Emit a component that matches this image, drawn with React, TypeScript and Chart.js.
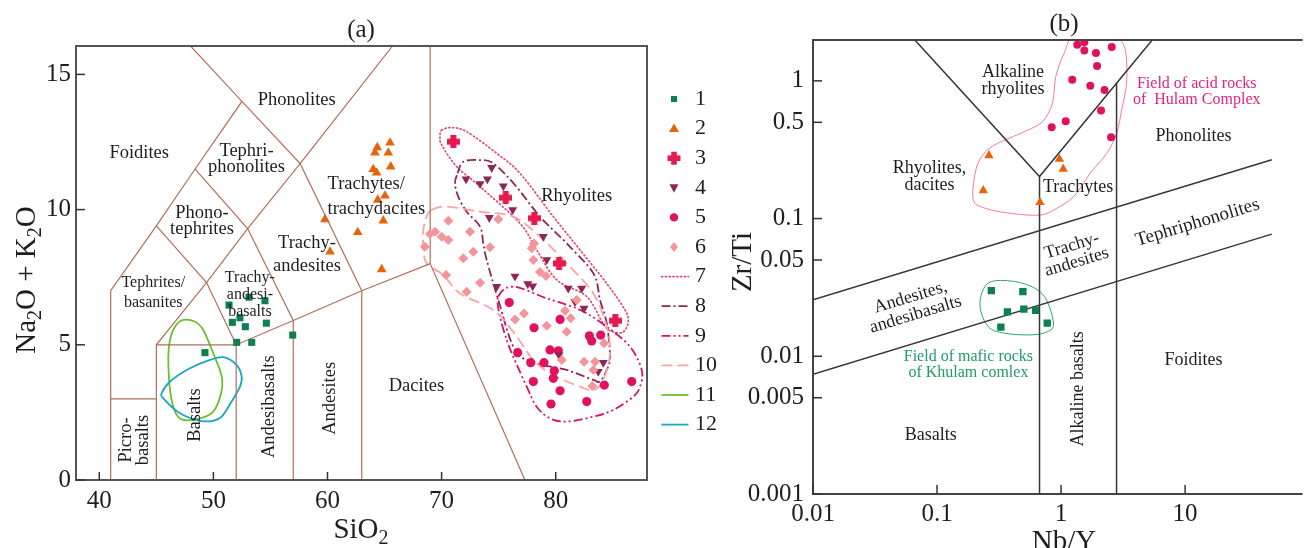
import React, { useEffect, useRef } from "react";
import { Chart, registerables } from "chart.js";

Chart.register(...registerables);

const FONT = '"Liberation Serif", "Times New Roman", serif';

// ================= Panel (a): TAS diagram =================
const TAS_X_TICKS = [40, 50, 60, 70, 80];
const TAS_Y_TICKS = [0, 5, 10, 15];

const TAS_BOUNDARIES: [number, number][][] = [
  [[41, 0], [41, 7], [45, 9.4], [48.4, 11.5], [52.5, 14], [48.0, 16.05]],
  [[41, 3], [45, 3]],
  [[45, 0], [45, 5], [49.4, 7.3], [53, 9.3], [57.6, 11.7], [52.5, 14]],
  [[45, 5], [52, 5]],
  [[52, 0], [52, 5], [57, 5.9], [63, 7], [69, 8]],
  [[57, 0], [57, 5.9], [53, 9.3], [48.4, 11.5]],
  [[45, 9.4], [49.4, 7.3], [52, 5]],
  [[63, 0], [63, 7], [57.6, 11.7], [65.7, 16.05]],
  [[69, 16.05], [69, 8], [77.3, 0]],
];

// series 1 — mafic rocks
const S1_SIO2 = [51.37, 53.12, 54.52, 51.66, 52.33, 52.8, 54.64, 52.04, 53.36, 56.95, 49.26];
const S1_ALK = [6.47, 6.76, 6.63, 5.83, 6.0, 5.67, 5.8, 5.09, 5.09, 5.36, 4.71];
// series 2
const S2_SIO2 = [64.36, 65.48, 64.16, 65.33, 64.01, 64.31, 65.54, 64.4, 65.04, 64.89, 59.78, 62.65, 60.22, 64.75];
const S2_ALK = [12.3, 12.47, 12.1, 12.1, 11.49, 11.36, 11.59, 10.36, 10.51, 9.59, 9.64, 9.16, 8.44, 7.79];
// series 3
const S3_SIO2 = [71.03, 75.62, 78.12, 80.29, 85.22];
const S3_ALK = [12.51, 10.44, 9.68, 8.01, 5.89];
// series 4
const S4_SIO2 = [74.39, 72.14, 73.37, 74.01, 75.41, 76.23, 74.18, 78.91, 79.21, 76.43, 74.83, 77.55, 77.98, 81.1, 82.28, 81.69, 82.48, 80.29, 84.17, 83.73];
const S4_ALK = [11.55, 11.13, 10.95, 11.13, 10.87, 9.99, 9.7, 9.0, 8.14, 7.53, 7.15, 7.25, 7.17, 7.09, 7.09, 6.59, 6.35, 4.62, 4.34, 4.01];
// series 5
const S5_SIO2 = [75.93, 78.1, 80.38, 82.95, 83.94, 83.15, 76.67, 79.5, 80.23, 77.81, 78.97, 79.88, 79.79, 78.04, 80.38, 79.59, 82.72, 84.26, 86.66];
const S5_ALK = [6.56, 5.63, 5.94, 5.33, 5.36, 5.14, 4.71, 4.81, 4.78, 4.34, 4.34, 4.04, 3.76, 3.64, 3.3, 2.81, 2.9, 3.51, 3.64];
// series 6
const S6_SIO2 = [70.59, 69.42, 68.98, 70.01, 70.59, 72.49, 68.54, 72.78, 74.24, 71.9, 70.39, 74.97, 77.9, 78.04, 79.15, 73.37, 72.2, 77.22, 76.43, 79.21, 80.82, 81.31, 80.96, 84.23, 82.48, 83.45, 83.3, 83.21, 80.53, 81.84, 78.1, 78.62];
const S6_ALK = [9.59, 9.18, 9.1, 9.0, 8.88, 9.18, 8.63, 8.44, 8.61, 8.2, 7.58, 9.64, 8.57, 8.14, 7.54, 7.29, 6.96, 6.16, 5.94, 5.7, 6.26, 5.98, 5.48, 5.06, 4.37, 4.37, 4.07, 3.48, 4.44, 6.66, 8.75, 7.69];

// contours 7..12
const C7: [number, number][] = [[70.01, 12.94], [70.89, 13.03], [72.2, 12.88], [74.83, 12.08], [76.87, 11.34], [79.79, 9.74], [82.13, 8.51], [84.47, 7.27], [86.07, 6.29], [86.36, 5.85], [85.92, 5.48], [85.05, 5.48], [84.23, 5.73], [82.72, 6.78], [80.09, 7.4], [78.33, 8.51], [76.87, 9.49], [73.37, 10.85], [71.32, 11.59], [70.01, 12.39], [69.86, 12.7]];
const C8: [number, number][] = [[71.4, 11.34], [71.9, 11.77], [73.37, 11.83], [74.53, 11.71], [76.43, 10.91], [78.62, 9.74], [80.96, 8.75], [83.3, 7.64], [83.88, 6.66], [84.47, 5.8], [84.76, 4.56], [84.47, 4.07], [83.88, 3.64], [83.3, 3.7], [80.96, 4.07], [78.33, 4.32], [76.43, 4.81], [74.97, 6.66], [73.95, 8.14], [73.65, 8.75], [73.37, 9.37], [72.2, 9.92], [71.46, 10.48], [71.17, 10.97]];
const C9: [number, number][] = [[74.97, 6.78], [76.28, 7.15], [79.21, 6.72], [82.13, 6.29], [84.47, 5.67], [86.51, 4.93], [87.54, 4.07], [87.39, 3.45], [86.8, 3.08], [85.05, 2.59], [83.3, 2.34], [80.96, 2.16], [79.5, 2.28], [78.33, 2.71], [77.46, 3.45], [76.28, 4.56], [75.71, 5.18], [75.12, 6.04]];
const C10: [number, number][] = [[69.13, 9.99], [70.45, 10.11], [73.37, 9.92], [76.28, 9.74], [78.62, 9.0], [80.96, 8.01], [83.3, 6.9], [84.47, 5.67], [84.76, 4.69], [84.17, 3.7], [83.3, 3.33], [82.13, 3.45], [79.79, 3.88], [78.04, 4.44], [76.28, 5.48], [74.53, 6.29], [71.61, 6.9], [70.15, 7.58], [68.69, 8.01], [68.4, 8.63], [68.4, 9.25], [68.69, 9.74]];
const C11: [number, number][] = [[47.36, 5.92], [48.39, 5.85], [49.11, 5.55], [49.99, 4.69], [50.73, 3.82], [50.67, 3.21], [49.99, 2.53], [48.83, 2.28], [47.36, 2.22], [46.63, 2.53], [46.2, 3.33], [46.05, 4.56], [46.2, 5.18], [46.63, 5.67]];
const C12: [number, number][] = [[50.87, 4.54], [52.04, 4.25], [52.48, 3.82], [52.33, 3.45], [51.6, 2.9], [50.73, 2.34], [49.99, 2.19], [48.83, 2.19], [47.07, 2.47], [45.61, 3.02], [45.47, 3.21], [46.2, 3.64], [47.95, 4.13], [49.7, 4.44]];

const LEGEND_LABELS = ["1", "2", "3", "4", "5", "6", "7", "8", "9", "10", "11", "12"];

const TAS_LABELS = [
  { t: ["Foidites"], x: 43.5, y: 12.1 },
  { t: ["Phonolites"], x: 57.3, y: 14.05 },
  { t: ["Tephri-", "phonolites"], x: 52.9, y: 11.85, lh: 16 },
  { t: ["Phono-", "tephrites"], x: 49.0, y: 9.58, lh: 16.6 },
  { t: ["Trachy-", "andesites"], x: 58.2, y: 8.33, lh: 22.7 },
  { t: ["Trachytes/", "trachydacites"], x: 60.0, y: 10.48, lh: 25, align: "left" },
  { t: ["Rhyolites"], x: 81.84, y: 10.5 },
  { t: ["Tephrites/", "basanites"], x: 44.73, y: 6.92, lh: 19.4, size: 16 },
  { t: ["Trachy-", "andesi-", "basalts"], x: 53.2, y: 6.84, lh: 17, size: 16 },
  { t: ["Picro-", "basalts"], x: 43.1, y: 1.48, lh: 17.3, rot: -90 },
  { t: ["Basalts"], x: 48.4, y: 2.4, rot: -90 },
  { t: ["Andesibasalts"], x: 54.9, y: 2.71, rot: -90 },
  { t: ["Andesites"], x: 60.2, y: 3.02, rot: -90 },
  { t: ["Dacites"], x: 67.8, y: 3.48 },
];

// ================= Panel (b): Zr/Ti vs Nb/Y =================
const ZT_X_TICKS = [0.01, 0.1, 1, 10];
const ZT_Y_TICKS = [0.001, 0.005, 0.01, 0.05, 0.1, 0.5, 1];

const ZT_BOUNDARIES: [number, number][][] = [
  [[0.01, 0.0257], [50, 0.267]],
  [[0.01, 0.00741], [50, 0.0771]],
  [[0.0662, 1.98], [0.67, 0.202], [5.43, 1.98]],
  [[0.67, 0.202], [0.67, 0.001]],
  [[2.8, 0.968], [2.8, 0.001]],
];

const B1_NBY = [0.274, 0.492, 0.369, 0.501, 0.624, 0.773, 0.327];
const B1_ZRTI = [0.03, 0.0295, 0.021, 0.022, 0.0216, 0.0174, 0.0163];
const B2_NBY = [0.262, 0.97, 1.04, 0.236, 0.676];
const B2_ZRTI = [0.287, 0.27, 0.229, 0.16, 0.131];
const B5_NBY = [1.35, 1.54, 1.54, 1.91, 2.56, 1.95, 1.23, 1.72, 2.24, 2.1, 1.09, 0.84, 2.53];
const B5_ZRTI = [1.83, 1.91, 1.66, 1.59, 1.76, 1.28, 1.02, 0.92, 0.86, 0.61, 0.51, 0.46, 0.39];

const ACID_FIELD: [number, number][] = [[0.196, 0.137], [0.203, 0.214], [0.229, 0.282], [0.292, 0.343], [0.507, 0.428], [0.709, 0.506], [0.853, 0.692], [0.906, 1.07], [1.06, 1.59], [1.3, 2.15], [2.6, 2.15], [3.08, 1.93], [3.34, 1.55], [3.37, 0.96], [3.08, 0.615], [2.81, 0.417], [2.34, 0.298], [1.72, 0.214], [1.27, 0.145], [0.88, 0.116], [0.668, 0.106], [0.397, 0.109], [0.243, 0.119]];
const MAFIC_FIELD: [number, number][] = [[0.222, 0.023], [0.243, 0.0321], [0.31, 0.0355], [0.507, 0.0336], [0.733, 0.0272], [0.869, 0.0174], [0.778, 0.0151], [0.573, 0.0143], [0.352, 0.0147], [0.259, 0.0164]];

const ZT_LABELS = [
  { t: ["Alkaline", "rhyolites"], x: 0.409, y: 1.0, lh: 16.6 },
  { t: ["Rhyolites,", "dacites"], x: 0.0871, y: 0.202, lh: 16.7 },
  { t: ["Trachytes"], x: 1.37, y: 0.169 },
  { t: ["Phonolites"], x: 11.7, y: 0.394 },
  { t: ["Field of acid rocks", "of  Hulam Complex"], x: 12.4, y: 0.832, lh: 16, size: 16, color: "#e3237c" },
  { t: ["Tephriphonolites"], x: 12.6, y: 0.0935, rot: -16.8, size: 19 },
  { t: ["Trachy-", "andesites"], x: 1.28, y: 0.0554, rot: -16.8, lh: 17 },
  { t: ["Andesites,", "andesibasalts"], x: 0.0641, y: 0.0232, rot: -16.8, lh: 18 },
  { t: ["Field of mafic rocks", "of Khulam comlex"], x: 0.179, y: 0.00866, lh: 16, size: 16, color: "#1f9e63" },
  { t: ["Basalts"], x: 0.0891, y: 0.00269 },
  { t: ["Alkaline basalts"], x: 1.37, y: 0.0058, rot: -90 },
  { t: ["Foidites"], x: 11.7, y: 0.0094 },
];

// ================= styles =================
const COL = {
  s1: "#0e7f4f",
  s2: "#e8630a",
  s3: "#e31b4e",
  s4: "#8e2657",
  s5: "#e0115f",
  s6: "#f3959b",
  c7: "#ea3d64",
  c8: "#8e2657",
  c9: "#d6136b",
  c10: "#f9a5a5",
  c11: "#6dbf2c",
  c12: "#1aa6c2",
  tas: "#b0705a",
  zt: "#3b3535",
  text: "#1e1e1e",
};

const CONTOURS_A = [
  { pts: C7, color: COL.c7, dash: [1.2, 2.6], width: 1.6 },
  { pts: C8, color: COL.c8, dash: [9, 3, 2, 3], width: 1.8 },
  { pts: C9, color: COL.c9, dash: [9, 3, 2, 3, 2, 3], width: 1.8 },
  { pts: C10, color: COL.c10, dash: [11, 5], width: 1.8 },
  { pts: C11, color: COL.c11, dash: [], width: 1.8 },
  { pts: C12, color: COL.c12, dash: [], width: 1.8 },
];

type P = { x: number; y: number };

function zip(xs: number[], ys: number[]): P[] {
  return xs.map((x, i) => ({ x, y: ys[i] }));
}

function splinePath(ctx: CanvasRenderingContext2D, p: P[]) {
  const n = p.length;
  ctx.beginPath();
  ctx.moveTo(p[0].x, p[0].y);
  for (let i = 0; i < n; i++) {
    const p0 = p[(i - 1 + n) % n], p1 = p[i], p2 = p[(i + 1) % n], p3 = p[(i + 2) % n];
    ctx.bezierCurveTo(
      p1.x + (p2.x - p0.x) / 6, p1.y + (p2.y - p0.y) / 6,
      p2.x - (p3.x - p1.x) / 6, p2.y - (p3.y - p1.y) / 6,
      p2.x, p2.y
    );
  }
  ctx.closePath();
}

function drawBlock(ctx: CanvasRenderingContext2D, cx: number, cy: number, lines: string[], size: number, color: string, rot = 0, lh = size, align: CanvasTextAlign = "center") {
  ctx.save();
  ctx.translate(cx, cy);
  if (rot) ctx.rotate((rot * Math.PI) / 180);
  ctx.font = `${size}px ${FONT}`;
  ctx.fillStyle = color;
  ctx.textAlign = align;
  ctx.textBaseline = "middle";
  const n = lines.length;
  lines.forEach((t, i) => ctx.fillText(t, 0, (i - (n - 1) / 2) * lh));
  ctx.restore();
}

function drawRich(ctx: CanvasRenderingContext2D, parts: [string, boolean][], cx: number, cy: number, size: number, rot = 0) {
  ctx.save();
  ctx.translate(cx, cy);
  if (rot) ctx.rotate((rot * Math.PI) / 180);
  ctx.fillStyle = COL.text;
  ctx.textBaseline = "middle";
  ctx.textAlign = "left";
  const big = `${size}px ${FONT}`;
  const small = `${Math.round(size * 0.68)}px ${FONT}`;
  let total = 0;
  parts.forEach(([t, s]) => { ctx.font = s ? small : big; total += ctx.measureText(t).width; });
  let x = -total / 2;
  parts.forEach(([t, s]) => {
    ctx.font = s ? small : big;
    ctx.fillText(t, x, s ? size * 0.3 : 0);
    x += ctx.measureText(t).width;
  });
  ctx.restore();
}

function makeCross(size: number, arm: number, color: string) {
  const c = document.createElement("canvas");
  c.width = size;
  c.height = size;
  const g = c.getContext("2d")!;
  g.fillStyle = color;
  const o = (size - arm) / 2;
  g.fillRect(o, 0, arm, size);
  g.fillRect(0, o, size, arm);
  return c;
}

function lineDatasets(lines: [number, number][][], color: string, width: number) {
  return lines.map((seg) => ({
    data: seg.map(([x, y]) => ({ x, y })),
    showLine: true,
    borderColor: color,
    borderWidth: width,
    pointRadius: 0,
    tension: 0,
    order: 20,
  }));
}

function marker(data: P[], color: string, style: any, radius: number, rotation = 0) {
  return {
    data,
    pointStyle: style,
    pointRadius: radius,
    rotation,
    backgroundColor: color,
    borderColor: color,
    borderWidth: 0,
    showLine: false,
    order: 1,
  };
}

function drawLegendMarker(ctx: CanvasRenderingContext2D, i: number, x: number, y: number) {
  ctx.save();
  ctx.setLineDash([]);
  if (i === 0) { ctx.fillStyle = COL.s1; ctx.fillRect(x - 3, y - 3, 6, 6); }
  else if (i === 1) { ctx.fillStyle = COL.s2; ctx.beginPath(); ctx.moveTo(x, y - 5); ctx.lineTo(x + 5, y + 3.5); ctx.lineTo(x - 5, y + 3.5); ctx.closePath(); ctx.fill(); }
  else if (i === 2) { ctx.fillStyle = COL.s3; ctx.fillRect(x - 2.8, y - 6.5, 5.6, 13); ctx.fillRect(x - 6.5, y - 2.8, 13, 5.6); }
  else if (i === 3) { ctx.fillStyle = COL.s4; ctx.beginPath(); ctx.moveTo(x, y + 5); ctx.lineTo(x + 4.5, y - 3.5); ctx.lineTo(x - 4.5, y - 3.5); ctx.closePath(); ctx.fill(); }
  else if (i === 4) { ctx.fillStyle = COL.s5; ctx.beginPath(); ctx.arc(x, y, 4.2, 0, Math.PI * 2); ctx.fill(); }
  else if (i === 5) { ctx.fillStyle = COL.s6; ctx.beginPath(); ctx.moveTo(x, y - 5); ctx.lineTo(x + 4, y); ctx.lineTo(x, y + 5); ctx.lineTo(x - 4, y); ctx.closePath(); ctx.fill(); }
  else {
    const c = CONTOURS_A[i - 6];
    ctx.strokeStyle = c.color;
    ctx.lineWidth = c.width;
    ctx.lineCap = i === 6 ? "round" : "butt";
    ctx.setLineDash(c.dash);
    ctx.beginPath();
    ctx.moveTo(x - 12.5, y);
    ctx.lineTo(x + 14.5, y);
    ctx.stroke();
  }
  ctx.restore();
}

const panelAPlugin = {
  id: "panelA",
  beforeDatasetsDraw(chart: any) {
    const { ctx, chartArea: ca, scales } = chart;
    const xs = scales.x, ys = scales.y;
    ctx.save();
    ctx.beginPath();
    ctx.rect(ca.left, ca.top, ca.right - ca.left, ca.bottom - ca.top);
    ctx.clip();
    CONTOURS_A.forEach((c, k) => {
      ctx.strokeStyle = c.color;
      ctx.lineWidth = c.width;
      ctx.setLineDash(c.dash);
      ctx.lineCap = k === 0 ? "round" : "butt";
      splinePath(ctx, c.pts.map(([a, b]) => ({ x: xs.getPixelForValue(a), y: ys.getPixelForValue(b) })));
      ctx.stroke();
    });
    ctx.restore();
  },
  afterDraw(chart: any) {
    const { ctx, chartArea: ca, scales } = chart;
    const xs = scales.x, ys = scales.y;
    ctx.save();
    // region labels
    TAS_LABELS.forEach((l: any) => {
      drawBlock(ctx, xs.getPixelForValue(l.x), ys.getPixelForValue(l.y), l.t, l.size || 18.5, COL.text, l.rot || 0, l.lh || 18, l.align || "center");
    });
    // frame
    ctx.setLineDash([]);
    ctx.strokeStyle = "#555";
    ctx.lineWidth = 2;
    ctx.strokeRect(ca.left, ca.top, ca.right - ca.left, ca.bottom - ca.top);
    // ticks
    ctx.strokeStyle = "#333";
    ctx.lineWidth = 1.5;
    ctx.fillStyle = COL.text;
    ctx.font = `25px ${FONT}`;
    ctx.textBaseline = "middle";
    TAS_X_TICKS.forEach((v) => {
      const px = xs.getPixelForValue(v);
      ctx.beginPath(); ctx.moveTo(px, ca.bottom); ctx.lineTo(px, ca.bottom - 8); ctx.stroke();
      ctx.textAlign = "center";
      ctx.fillText(String(v), px, ca.bottom + 21);
    });
    TAS_Y_TICKS.forEach((v) => {
      const py = ys.getPixelForValue(v);
      ctx.beginPath(); ctx.moveTo(ca.left, py); ctx.lineTo(ca.left + 9, py); ctx.stroke();
      ctx.textAlign = "right";
      ctx.fillText(String(v), ca.left - 5, py);
    });
    // axis titles
    drawRich(ctx, [["SiO", false], ["2", true]], 361, 530, 29);
    drawRich(ctx, [["Na", false], ["2", true], ["O + K", false], ["2", true], ["O", false]], 27, 280, 29, -90);
    drawBlock(ctx, 361, 30, ["(a)"], 25, COL.text);
    // legend
    LEGEND_LABELS.forEach((t, i) => {
      const y = 99 + i * 29.6;
      drawLegendMarker(ctx, i, 674, y);
      drawBlock(ctx, 695, y, [t], 22, COL.text, 0, 22, "left");
    });
    ctx.restore();
  },
};

const panelBPlugin = {
  id: "panelB",
  beforeDatasetsDraw(chart: any) {
    const { ctx, chartArea: ca, scales } = chart;
    const xs = scales.x, ys = scales.y;
    ctx.save();
    ctx.beginPath();
    ctx.rect(ca.left, ca.top, ca.right - ca.left, ca.bottom - ca.top);
    ctx.clip();
    const fields = [
      { pts: ACID_FIELD, color: "#f07aa8" },
      { pts: MAFIC_FIELD, color: "#2aa673" },
    ];
    fields.forEach((f) => {
      ctx.strokeStyle = f.color;
      ctx.lineWidth = 1;
      splinePath(ctx, f.pts.map(([a, b]) => ({ x: xs.getPixelForValue(a), y: ys.getPixelForValue(b) })));
      ctx.stroke();
    });
    ctx.restore();
  },
  afterDraw(chart: any) {
    const { ctx, chartArea: ca, scales } = chart;
    const xs = scales.x, ys = scales.y;
    ctx.save();
    ZT_LABELS.forEach((l: any) => {
      drawBlock(ctx, xs.getPixelForValue(l.x), ys.getPixelForValue(l.y), l.t, l.size || 18, l.color || COL.text, l.rot || 0, l.lh || 18);
    });
    // frame: left, top, bottom
    ctx.strokeStyle = "#444";
    ctx.lineWidth = 2;
    ctx.beginPath();
    ctx.moveTo(ca.right + 2, ca.top);
    ctx.lineTo(ca.left, ca.top);
    ctx.lineTo(ca.left, ca.bottom);
    ctx.lineTo(ca.right + 2, ca.bottom);
    ctx.stroke();
    ctx.strokeStyle = "#333";
    ctx.lineWidth = 1.5;
    ctx.fillStyle = COL.text;
    ctx.font = `25px ${FONT}`;
    ctx.textBaseline = "middle";
    ZT_X_TICKS.forEach((v) => {
      const px = xs.getPixelForValue(v);
      ctx.beginPath(); ctx.moveTo(px, ca.bottom); ctx.lineTo(px, ca.bottom - 9); ctx.stroke();
      ctx.textAlign = "center";
      ctx.fillText(String(v), px, ca.bottom + 20);
    });
    ZT_Y_TICKS.forEach((v) => {
      const py = ys.getPixelForValue(v);
      ctx.beginPath(); ctx.moveTo(ca.left, py); ctx.lineTo(ca.left + 9, py); ctx.stroke();
      ctx.textAlign = "right";
      ctx.fillText(String(v), ca.left - 9, py);
    });
    drawBlock(ctx, 344, 24, ["(b)"], 25, COL.text);
    drawBlock(ctx, 344, 542, ["Nb/Y"], 29, COL.text);
    drawBlock(ctx, 23, 262, ["Zr/Ti"], 29, COL.text, -90);
    ctx.restore();
  },
};

export default function App() {
  const refA = useRef<HTMLCanvasElement | null>(null);
  const refB = useRef<HTMLCanvasElement | null>(null);

  useEffect(() => {
    const cross = makeCross(13, 6, COL.s3);
    const chartA = new Chart(refA.current!, {
      type: "scatter",
      data: {
        datasets: [
          ...lineDatasets(TAS_BOUNDARIES, COL.tas, 1.2),
          marker(zip(S6_SIO2, S6_ALK), COL.s6, "rectRot", 5),
          marker(zip(S4_SIO2, S4_ALK), COL.s4, "triangle", 5.2, 180),
          marker(zip(S5_SIO2, S5_ALK), COL.s5, "circle", 4.6),
          marker(zip(S3_SIO2, S3_ALK), COL.s3, cross, 6),
          marker(zip(S2_SIO2, S2_ALK), COL.s2, "triangle", 5.6),
          marker(zip(S1_SIO2, S1_ALK), COL.s1, "rect", 5),
        ] as any,
      },
      options: {
        animation: false,
        responsive: false,
        maintainAspectRatio: false,
        events: [],
        layout: { padding: { left: 76, top: 46, right: 73, bottom: 68 } },
        scales: {
          x: { type: "linear", min: 37.96, max: 88.0, display: false },
          y: { type: "linear", min: 0, max: 16.05, display: false },
        },
        plugins: { legend: { display: false }, tooltip: { enabled: false } },
      },
      plugins: [panelAPlugin],
    } as any);

    const chartB = new Chart(refB.current!, {
      type: "scatter",
      data: {
        datasets: [
          ...lineDatasets(ZT_BOUNDARIES, COL.zt, 1.5),
          marker(zip(B5_NBY, B5_ZRTI), COL.s5, "circle", 4),
          marker(zip(B2_NBY, B2_ZRTI), COL.s2, "triangle", 5.4),
          marker(zip(B1_NBY, B1_ZRTI), COL.s1, "rect", 5.2),
        ] as any,
      },
      options: {
        animation: false,
        responsive: false,
        maintainAspectRatio: false,
        events: [],
        layout: { padding: { left: 93, top: 40, right: 0, bottom: 54 } },
        scales: {
          x: { type: "logarithmic", min: 0.01, max: 85.3, display: false },
          y: { type: "logarithmic", min: 0.001, max: 1.98, display: false },
        },
        plugins: { legend: { display: false }, tooltip: { enabled: false } },
      },
      plugins: [panelBPlugin],
    } as any);

    return () => {
      chartA.destroy();
      chartB.destroy();
    };
  }, []);

  return (
    <div style={{ position: "fixed", left: 0, top: 0, width: 1306, height: 548, background: "#fff", overflow: "hidden" }}>
      <canvas ref={refA} width={720} height={548} style={{ position: "absolute", left: 0, top: 0, width: 720, height: 548 }} />
      <canvas ref={refB} width={586} height={548} style={{ position: "absolute", left: 720, top: 0, width: 586, height: 548 }} />
    </div>
  );
}
